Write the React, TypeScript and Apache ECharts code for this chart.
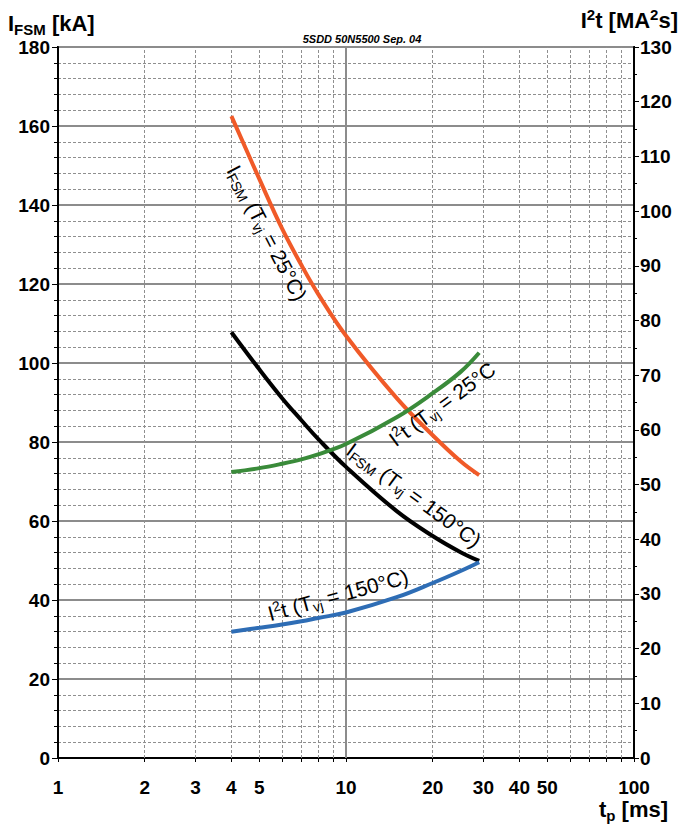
import React, { useEffect, useRef } from "react";
import * as echarts from "echarts";

// pulse duration t_p [ms]
const tMs = [4, 5, 6, 7, 8, 10, 15, 20, 25, 29];
// I_FSM [kA]
const ifsm25 = [162.5, 146.6, 134, 124.8, 117.5, 106.9, 91.1, 81.7, 75.1, 71.6];
const ifsm150 = [107.8, 98.4, 91.1, 85.5, 80.8, 73.7, 62.5, 56.2, 52.1, 49.9];
// I2t [MA2s]
const i2t25 = [52.3, 53.0, 53.8, 54.6, 55.5, 57.4, 62.3, 66.7, 70.6, 74.1];
const i2t150 = [23.1, 23.8, 24.4, 25.0, 25.6, 26.6, 29.4, 32.0, 34.2, 35.8];

const xLabelValues = [1, 2, 3, 4, 5, 10, 20, 30, 40, 50, 100];
const xTickValues = [1, 2, 3, 4, 5, 6, 7, 8, 9, 10, 20, 30, 40, 50, 60, 70, 80, 90, 100];
const xMinorGrid = [2, 3, 4, 5, 6, 7, 8, 9, 20, 30, 40, 50, 60, 70, 80, 90];
const xMajorGrid = [10];

const FONT = '"Liberation Sans", Arial, Helvetica, sans-serif';

const pair = (ys: number[]) => tMs.map((t, i) => [t, ys[i]]);

const curveRich = {
  b: { fontSize: 21, lineHeight: 25, fontFamily: FONT, fill: "#000" },
  s: { fontSize: 14, lineHeight: 14, padding: [11, 0, 0, 0], fontFamily: FONT, fill: "#000" },
  p: { fontSize: 14, lineHeight: 14, padding: [0, 0, 11, 0], fontFamily: FONT, fill: "#000" },
};

const nameRich = {
  b: { fontSize: 22, lineHeight: 26, fontFamily: FONT, fontWeight: "bold", fill: "#000" },
  s: { fontSize: 15, lineHeight: 15, padding: [12, 0, 0, 0], fontFamily: FONT, fontWeight: "bold", fill: "#000" },
  p: { fontSize: 15, lineHeight: 15, padding: [0, 0, 12, 0], fontFamily: FONT, fontWeight: "bold", fill: "#000" },
};

const deg = (d: number) => (d * Math.PI) / 180;

export default function App() {
  const ref = useRef<HTMLDivElement>(null);

  useEffect(() => {
    const chart = echarts.init(ref.current as HTMLDivElement, null, { renderer: "svg" });

    const curve = (name: string, ys: number[], color: string, yAxisIndex: number) => ({
      type: "line",
      name,
      data: pair(ys),
      xAxisIndex: 0,
      yAxisIndex,
      smooth: 0.4,
      showSymbol: false,
      symbol: "none",
      silent: true,
      z: 10,
      lineStyle: { color, width: 4 },
    });

    const curveLabel = (text: string, x: number, y: number, rot: number) => ({
      type: "text",
      x,
      y,
      rotation: deg(rot),
      z: 20,
      style: { text, rich: curveRich, align: "center", verticalAlign: "middle", fill: "#000", fontFamily: FONT },
    });

    const option: any = {
      animation: false,
      backgroundColor: "#fff",
      grid: {
        left: 58,
        right: 48,
        top: 47,
        bottom: 67,
        show: true,
        borderColor: "#000",
        borderWidth: 2,
        backgroundColor: "transparent",
      },
      xAxis: [
        {
          type: "log",
          logBase: 10,
          min: 1,
          max: 100,
          axisLine: { show: true, lineStyle: { color: "#000", width: 2 } },
          axisTick: { show: true, customValues: xTickValues, length: 4, lineStyle: { color: "#000" } },
          axisLabel: {
            customValues: xLabelValues,
            fontSize: 19,
            fontWeight: "bold",
            fontFamily: FONT,
            color: "#000",
            margin: 20,
          },
          splitLine: { show: false },
          minorTick: { show: false },
          minorSplitLine: { show: false },
        },
      ],
      yAxis: [
        {
          type: "value",
          min: 0,
          max: 180,
          interval: 20,
          position: "left",
          axisLine: { show: true, lineStyle: { color: "#000", width: 2 } },
          axisTick: { show: true, length: 6, lineStyle: { color: "#000" } },
          minorTick: { show: true, splitNumber: 5, length: 4, lineStyle: { color: "#000" } },
          axisLabel: { fontSize: 19, fontWeight: "bold", fontFamily: FONT, color: "#000", margin: 8 },
          splitLine: { show: true, lineStyle: { color: "#8c8c8c", width: 2 } },
          minorSplitLine: { show: true, lineStyle: { color: "#8f8f8f", width: 1, type: [3, 2] } },
        },
        {
          type: "value",
          min: 0,
          max: 130,
          interval: 10,
          position: "right",
          axisLine: { show: true, lineStyle: { color: "#000", width: 2 } },
          axisTick: { show: true, length: 5, lineStyle: { color: "#000" } },
          minorTick: { show: true, splitNumber: 2, length: 3, lineStyle: { color: "#000" } },
          axisLabel: { fontSize: 19, fontWeight: "bold", fontFamily: FONT, color: "#000", margin: 6 },
          splitLine: { show: false },
        },
      ],
      series: [
        {
          type: "line",
          data: pair(ifsm25),
          xAxisIndex: 0,
          yAxisIndex: 0,
          silent: true,
          showSymbol: false,
          symbol: "none",
          lineStyle: { opacity: 0 },
          z: 1,
          markLine: {
            silent: true,
            z: 1,
            animation: false,
            symbol: ["none", "none"],
            label: { show: false },
            lineStyle: { color: "#8f8f8f", type: [3, 2], width: 1 },
            data: [
              ...xMinorGrid.map((v) => ({ xAxis: v })),
              ...xMajorGrid.map((v) => ({
                xAxis: v,
                lineStyle: { color: "#8c8c8c", type: "solid", width: 2 },
              })),
            ],
          },
        },
        curve("IFSM 25°C", ifsm25, "#f05a28", 0),
        curve("IFSM 150°C", ifsm150, "#000000", 0),
        curve("I2t 25°C", i2t25, "#3a8b3a", 1),
        curve("I2t 150°C", i2t150, "#2e6db5", 1),
      ],
      graphic: [
        {
          type: "text",
          x: 8,
          y: 23,
          style: { text: "{b|I}{s|FSM}{b| [kA]}", rich: nameRich, align: "left", verticalAlign: "middle", fill: "#000" },
        },
        {
          type: "text",
          x: 678,
          y: 20,
          style: { text: "{b|I}{p|2}{b|t [MA}{p|2}{b|s]}", rich: nameRich, align: "right", verticalAlign: "middle", fill: "#000" },
        },
        {
          type: "text",
          x: 668,
          y: 809,
          style: { text: "{b|t}{s|p}{b| [ms]}", rich: nameRich, align: "right", verticalAlign: "middle", fill: "#000" },
        },
        {
          type: "text",
          x: 362,
          y: 39,
          style: {
            text: "5SDD 50N5500 Sep. 04",
            fontSize: 11,
            fontStyle: "italic",
            fontWeight: "bold",
            fontFamily: FONT,
            fill: "#000",
            align: "center",
            verticalAlign: "middle",
          },
        },
        curveLabel("{b|I}{s|FSM}{b| (T}{s|vj}{b| = 25°C)}", 267, 233, -62.6),
        curveLabel("{b|I}{p|2}{b|t (T}{s|vj}{b| = 25°C}", 442, 404, 36.4),
        curveLabel("{b|I}{s|FSM}{b| (T}{s|vj}{b| = 150°C)}", 414, 495, -36.3),
        curveLabel("{b|I}{p|2}{b|t (T}{s|vj}{b| = 150°C)}", 338, 595, 15.3),
      ],
    };

    chart.setOption(option);
    return () => chart.dispose();
  }, []);

  return (
    <div
      ref={ref}
      style={{ position: "fixed", left: 0, top: 0, width: 682, height: 825, background: "#fff" }}
    />
  );
}
